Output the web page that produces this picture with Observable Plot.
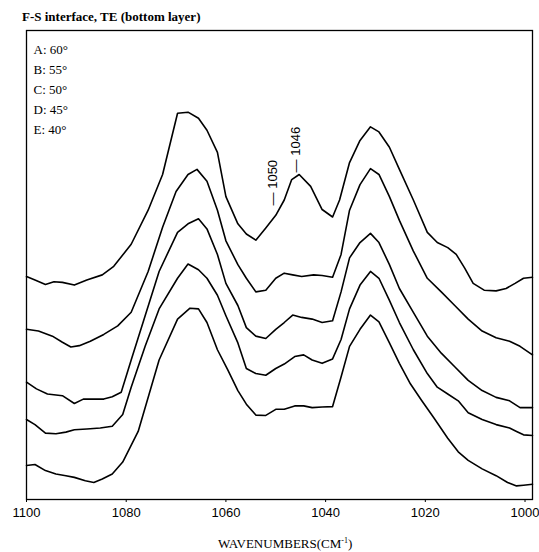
<!DOCTYPE html>
<html><head><meta charset="utf-8">
<script src="https://cdn.jsdelivr.net/npm/d3@7"></script>
<script src="https://cdn.jsdelivr.net/npm/@observablehq/plot@0.6"></script>
<style>
body{margin:0;background:#fff;}
#title{font-family:"Liberation Serif","Times New Roman",serif;font-size:13px;font-weight:bold;padding:10px 0 0 22px;line-height:14px;height:14px;white-space:nowrap;}
#cap{font-family:"Liberation Serif","Times New Roman",serif;font-size:13px;padding:7px 0 0 218px;line-height:14px;height:14px;white-space:nowrap;}
#cap sup{font-size:8px;line-height:0;}
svg{display:block;}
</style></head>
<body>
<div id="title">F-S interface, TE (bottom layer)</div>
<div id="chart"></div>
<div id="cap">WAVENUMBERS(CM<sup>-1</sup>)</div>
<script>
const xTicks = [1100, 1080, 1060, 1040, 1020, 1000];
const legendLabels = ["A: 60°", "B: 55°", "C: 50°", "D: 45°", "E: 40°"];
const seriesNames = ["A", "B", "C", "D", "E"];
const peakLabels = [{x: 1050.5, y: 86.4, label: "— 1050"}, {x: 1045.9, y: 96.1, label: "— 1046"}];

const specA = [[1100,65.5],[1098.3,64.5],[1096.2,63.2],[1094.5,64.0],[1092.8,63.8],[1090.4,63.0],[1087.9,64.5],[1084.8,66.0],[1082.5,68.5],[1079.0,75.0],
[1075.6,85.0],[1072.7,95.5],[1069.7,113.5],[1067.6,113.8],[1065.5,112.0],[1063.8,108.5],[1061.7,102.0],[1060.0,89.0],[1057.6,81.0],[1055.9,78.0],
[1054.0,76.2],[1052.0,79.8],[1050.0,83.5],[1048.3,88.0],[1046.8,94.0],[1045.3,95.5],[1043.0,92.0],[1040.7,85.2],[1038.6,83.0],[1037.2,88.0],
[1035.2,99.0],[1033.1,105.5],[1031.0,109.5],[1029.3,108.0],[1027.2,103.5],[1025.2,97.0],[1022.4,88.0],[1019.6,78.5],[1017.6,75.5],[1015.5,74.0],
[1013.8,72.0],[1012.1,68.0],[1010.4,63.5],[1008.2,61.5],[1005.8,61.3],[1003.8,62.0],[1002.0,63.5],[1000.3,65.0],[998.5,65.3]];

const specB = [[1100,50.0],[1097.6,49.5],[1094.8,48.0],[1092.8,46.2],[1091.1,44.8],[1089.4,45.2],[1087.2,46.5],[1084.5,48.5],[1081.7,51.0],[1079.0,55.0],
[1075.6,67.0],[1072.7,80.0],[1070.0,90.5],[1067.6,95.5],[1065.8,97.0],[1063.8,93.5],[1061.7,85.0],[1060.0,76.0],[1057.6,69.0],[1055.9,65.0],
[1054.0,61.0],[1052.0,61.5],[1050.0,65.0],[1048.3,66.5],[1046.6,66.0],[1044.8,65.5],[1042.4,66.0],[1040.7,65.8],[1038.6,65.3],[1036.9,72.0],
[1035.2,85.0],[1033.1,92.5],[1031.0,97.2],[1029.3,95.5],[1027.2,89.0],[1025.2,82.0],[1022.4,73.0],[1019.6,65.0],[1016.8,61.0],[1014.1,57.0],
[1011.4,53.0],[1008.6,49.5],[1005.8,47.5],[1003.1,46.5],[1001.0,45.0],[998.5,42.5]];

const specC = [[1100,34.5],[1098.0,32.5],[1095.8,31.0],[1092.8,30.5],[1090.4,28.2],[1088.6,29.5],[1086.5,29.5],[1084.5,29.5],[1082.8,30.2],[1081.0,31.5],
[1079.0,41.0],[1076.2,54.0],[1073.4,67.0],[1069.7,78.5],[1067.6,81.0],[1065.5,82.5],[1063.8,79.5],[1061.7,72.0],[1060.0,63.5],[1057.6,57.0],
[1055.9,50.5],[1054.0,48.0],[1052.0,47.3],[1050.0,50.0],[1048.3,52.0],[1046.6,54.2],[1044.8,53.5],[1042.7,53.0],[1040.7,52.0],[1038.6,52.5],
[1036.9,61.0],[1035.2,71.0],[1033.1,75.5],[1031.0,78.2],[1029.3,75.5],[1027.2,69.0],[1025.2,62.0],[1022.4,55.0],[1019.6,48.0],[1016.8,43.0],
[1014.1,39.0],[1011.4,35.0],[1008.6,32.0],[1005.8,30.0],[1003.1,29.0],[1001.0,27.0],[998.5,27.0]];

const specD = [[1100,23.5],[1098.3,22.0],[1096.2,19.5],[1094.1,19.3],[1092.1,19.8],[1090.4,20.5],[1087.9,20.7],[1085.2,21.0],[1082.8,21.5],[1080.7,25.0],
[1079.0,33.0],[1076.2,45.0],[1073.4,56.0],[1069.7,65.0],[1067.6,69.2],[1065.5,67.5],[1063.8,65.0],[1061.7,60.0],[1060.0,54.0],[1057.6,46.0],
[1055.9,38.5],[1054.0,37.0],[1052.0,36.5],[1050.0,38.5],[1048.3,39.8],[1046.2,42.0],[1044.4,42.5],[1042.7,41.0],[1040.7,40.0],[1038.6,41.3],
[1036.9,47.0],[1035.2,56.0],[1033.1,63.0],[1031.0,67.0],[1029.3,65.0],[1027.2,58.5],[1025.2,52.0],[1022.4,44.0],[1019.6,37.0],[1017.6,33.0],
[1015.5,31.0],[1013.4,29.0],[1011.4,25.5],[1008.6,23.5],[1005.8,22.0],[1003.1,21.0],[1001.7,20.0],[1000.3,19.0],[998.5,18.8]];

const specE = [[1100,10.0],[1098.3,10.3],[1096.2,8.5],[1094.1,7.5],[1092.1,7.0],[1090.4,6.5],[1088.2,5.5],[1086.5,5.0],[1084.8,6.0],[1082.8,7.5],
[1080.7,11.0],[1077.6,20.0],[1073.4,41.0],[1069.7,53.0],[1067.2,56.2],[1065.5,56.0],[1063.8,52.0],[1061.7,44.0],[1059.6,38.0],[1057.6,32.0],
[1055.9,28.0],[1054.0,24.8],[1052.0,24.7],[1050.0,26.5],[1048.3,26.5],[1046.2,27.5],[1044.4,27.5],[1042.7,27.0],[1040.7,27.2],[1038.6,27.3],
[1036.9,36.0],[1035.2,45.0],[1033.1,50.0],[1031.0,54.2],[1029.3,52.2],[1027.2,46.0],[1025.2,40.0],[1023.0,34.0],[1020.7,29.0],[1018.3,24.0],
[1015.5,18.0],[1013.4,14.0],[1011.4,11.5],[1008.6,9.0],[1005.8,7.0],[1003.5,5.0],[1001.7,4.0],[1000.3,4.2],[998.5,4.5]];

const allSpecs = [specA, specB, specC, specD, specE];
const rows = [];
allSpecs.forEach((spec, i) => spec.forEach(([x, y]) => rows.push({x, y, s: seriesNames[i]})));

const chart = Plot.plot({
  width: 539,
  height: 506,
  marginLeft: 26,
  marginRight: 7,
  marginTop: 6,
  marginBottom: 31,
  x: {domain: [1100, 998.5], label: null},
  y: {domain: [0, 137.8], axis: null},
  style: {fontFamily: "'Liberation Sans', Arial, sans-serif", fontSize: "13px", background: "white", color: "black"},
  marks: [
    Plot.frame({stroke: "black", strokeWidth: 1.3}),
    Plot.axisX({ticks: xTicks, tickSize: 3, tickPadding: 5, fontSize: 13, label: null, tickFormat: d => String(d)}),
    Plot.line(rows, {x: "x", y: "y", z: "s", stroke: "black", strokeWidth: 1.6}),
    Plot.text([legendLabels.join("\n")], {frameAnchor: "top-left", dx: 7, dy: 9.5, textAnchor: "start", lineAnchor: "top", fontFamily: "'Liberation Serif', 'Times New Roman', serif", fontSize: 13, lineHeight: 1.54}),
    Plot.text(peakLabels, {x: "x", y: "y", text: "label", rotate: -90, textAnchor: "start", fontSize: 13})
  ]
});
document.getElementById("chart").appendChild(chart);
</script>
</body></html>
